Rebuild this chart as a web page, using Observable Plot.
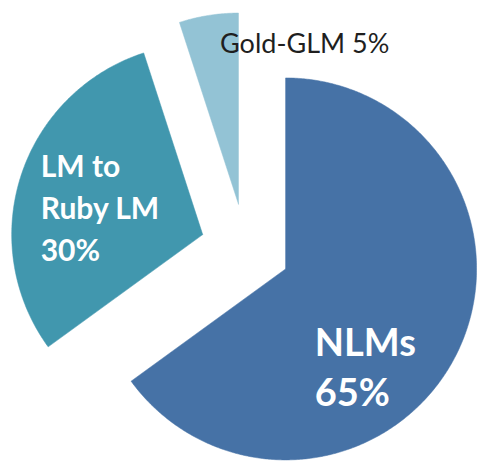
<!DOCTYPE html>
<html>
<head>
<meta charset="utf-8">
<script src="https://cdn.jsdelivr.net/npm/d3@7"></script>
<script src="https://cdn.jsdelivr.net/npm/@observablehq/plot@0.6"></script>
<style>
  html, body { margin: 0; padding: 0; background: #fff; }
</style>
</head>
<body>
<div id="chart"></div>
<script>
const categories = ["NLMs", "LM to Ruby LM", "Gold-GLM"];
const values = [65, 30, 5];
const labels = ["NLMs\n65%", "LM to\nRuby LM\n30%", "Gold-GLM 5%"];
const colors = ["#4672a6", "#4197ae", "#93c3d5"];

const W = 477, H = 462;
const R = 191;        // radius in data units (= px)
const explode = 45;   // explosion offset
const cx = 245, cy = 248; // pie centre within frame (px)

const arcs = d3.pie().sort(null).value(d => d.value)(
  categories.map((c, i) => ({cat: c, value: values[i], label: labels[i]}))
);

// polygon points for each slice
const pts = [];
const apex = [];
arcs.forEach(a => {
  const mid = (a.startAngle + a.endAngle) / 2;
  const ox = explode * Math.sin(mid), oy = explode * Math.cos(mid);
  apex.push({ox, oy, mid, cat: a.data.cat, label: a.data.label});
  pts.push({cat: a.data.cat, x: ox, y: oy});
  const n = Math.max(4, Math.ceil((a.endAngle - a.startAngle) / (Math.PI / 360)));
  for (let k = 0; k <= n; k++) {
    const t = a.startAngle + (a.endAngle - a.startAngle) * k / n;
    pts.push({cat: a.data.cat, x: ox + R * Math.sin(t), y: oy + R * Math.cos(t)});
  }
  pts.push({cat: a.data.cat, x: ox, y: oy});
});

function labelAt(i, frac) {
  const a = apex[i];
  return [{x: a.ox + frac * R * Math.sin(a.mid), y: a.oy + frac * R * Math.cos(a.mid), label: a.label}];
}

const font = "Lato, 'Open Sans', sans-serif";

const chart = Plot.plot({
  width: W, height: H,
  margin: 0,
  x: {domain: [-cx, W - cx], axis: null},
  y: {domain: [cy - H, cy], axis: null},
  color: {domain: categories, range: colors},
  style: {background: "#fff"},
  marks: [
    Plot.line(pts, {x: "x", y: "y", z: "cat", fill: "cat", stroke: "cat", strokeWidth: 0.5, curve: "linear"}),
    Plot.text(labelAt(0, 0.6), {x: "x", y: "y", text: "label", textAnchor: "start", dx: -73, dy: 44,
      fill: "white", fontSize: 38, fontWeight: "bold", lineHeight: 1.32, fontFamily: font}),
    Plot.text(labelAt(1, 0.6), {x: "x", y: "y", text: "label", textAnchor: "start", dx: -53, dy: 6,
      fill: "white", fontSize: 30, fontWeight: "bold", lineHeight: 1.4, fontFamily: font}),
    Plot.text(labelAt(2, 0.85), {x: "x", y: "y", text: "label", textAnchor: "start", dx: 7, dy: 1,
      fill: "#1f1f1f", fontSize: 27, fontFamily: font})
  ]
});
document.getElementById("chart").appendChild(chart);
</script>
</body>
</html>
